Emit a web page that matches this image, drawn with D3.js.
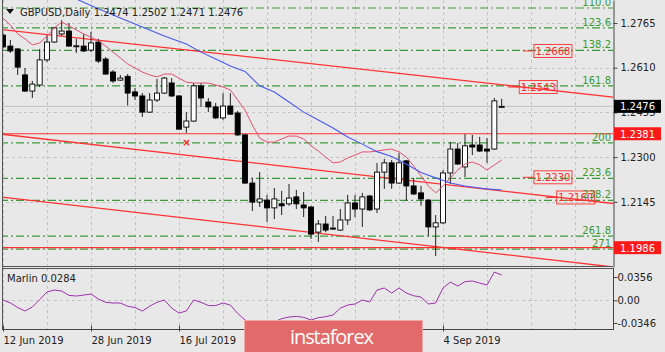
<!DOCTYPE html>
<html>
<head>
<meta charset="utf-8">
<script src="https://cdn.jsdelivr.net/npm/d3@7"></script>
<style>
body { margin: 0; background: #e8e8e8; }
svg { display: block; font-family: "DejaVu Sans", sans-serif; }
</style>
</head>
<body>
<div id="chart"></div>
<script>
// daily bars, GBPUSD
const dates = ["2019-06-12","2019-06-13","2019-06-14","2019-06-17","2019-06-18","2019-06-19","2019-06-20","2019-06-21",
	"2019-06-24","2019-06-25","2019-06-26","2019-06-27","2019-06-28","2019-07-01","2019-07-02","2019-07-03","2019-07-04",
	"2019-07-05","2019-07-08","2019-07-09","2019-07-10","2019-07-11","2019-07-12","2019-07-15","2019-07-16","2019-07-17",
	"2019-07-18","2019-07-19","2019-07-22","2019-07-23","2019-07-24","2019-07-25","2019-07-26","2019-07-29","2019-07-30",
	"2019-07-31","2019-08-01","2019-08-02","2019-08-05","2019-08-06","2019-08-07","2019-08-08","2019-08-09","2019-08-12",
	"2019-08-13","2019-08-14","2019-08-15","2019-08-16","2019-08-19","2019-08-20","2019-08-21","2019-08-22","2019-08-23",
	"2019-08-26","2019-08-27","2019-08-28","2019-08-29","2019-08-30","2019-09-02","2019-09-03","2019-09-04","2019-09-05",
	"2019-09-06","2019-09-09","2019-09-10","2019-09-11","2019-09-12","2019-09-13","2019-09-16"];

const opens = [1.2723,1.2685,1.2675,1.2585,1.2529,1.2550,1.2637,1.2699,1.2727,1.2737,1.2685,1.2685,1.2671,1.2699,1.2640,
	1.2595,1.2567,1.2580,1.2526,1.2512,1.2456,1.2498,1.2522,1.2557,1.2512,1.2404,1.2425,1.2547,1.2491,1.2474,1.2436,1.2477,
	1.2453,1.2377,1.2210,1.2144,1.2151,1.2124,1.2138,1.2138,1.2162,1.2134,1.2127,1.2040,1.2068,1.2054,1.2047,1.2082,1.2141,
	1.2120,1.2165,1.2120,1.2248,1.2280,1.2210,1.2287,1.2200,1.2176,1.2151,1.2058,1.2072,1.2245,1.2328,1.2266,1.2342,1.2342,
	1.2328,1.2328,1.2474];
const highs = [1.2730,1.2706,1.2678,1.2609,1.2564,1.2675,1.2723,1.2751,1.2775,1.2765,1.2710,1.2727,1.2734,1.2710,1.2647,
	1.2602,1.2585,1.2588,1.2540,1.2522,1.2522,1.2571,1.2578,1.2574,1.2515,1.2456,1.2557,1.2557,1.2505,1.2488,1.2522,1.2522,
	1.2460,1.2380,1.2228,1.2248,1.2169,1.2193,1.2183,1.2207,1.2186,1.2179,1.2130,1.2082,1.2096,1.2096,1.2120,1.2169,1.2169,
	1.2176,1.2169,1.2280,1.2294,1.2290,1.2314,1.2290,1.2228,1.2200,1.2155,1.2099,1.2255,1.2352,1.2349,1.2380,1.2377,1.2370,
	1.2366,1.2505,1.2502];
const lows = [1.2678,1.2661,1.2585,1.2526,1.2505,1.2543,1.2630,1.2696,1.2720,1.2682,1.2661,1.2664,1.2664,1.2626,1.2585,
	1.2557,1.2564,1.2479,1.2498,1.2439,1.2453,1.2491,1.2519,1.2508,1.2394,1.2384,1.2422,1.2474,1.2456,1.2432,1.2429,1.2446,
	1.2373,1.2207,1.2113,1.2127,1.2075,1.2085,1.2099,1.2131,1.2120,1.2092,1.2016,1.2006,1.2040,1.2047,1.2044,1.2065,1.2092,
	1.2058,1.2113,1.2106,1.2190,1.2190,1.2207,1.2148,1.2169,1.2131,1.2026,1.1957,1.2068,1.2207,1.2273,1.2231,1.2307,1.2318,
	1.2280,1.2325,1.2471];
const closes = [1.2682,1.2668,1.2612,1.2529,1.2553,1.2637,1.2699,1.2748,1.2737,1.2685,1.2686,1.2668,1.2696,1.2633,1.2588,
	1.2564,1.2574,1.2522,1.2512,1.2456,1.2498,1.2522,1.2574,1.2512,1.2397,1.2425,1.2547,1.2505,1.2474,1.2436,1.2477,1.2449,
	1.2377,1.2210,1.2144,1.2155,1.2124,1.2155,1.2131,1.2158,1.2138,1.2124,1.2033,1.2068,1.2047,1.2051,1.2082,1.2141,1.2120,
	1.2162,1.2117,1.2248,1.2280,1.2210,1.2280,1.2200,1.2172,1.2155,1.2058,1.2072,1.2245,1.2328,1.2276,1.2339,1.2335,1.2321,
	1.2321,1.2495,1.2476];

// short moving average (pink), one value per bar
const fastMA = [1.2782,1.2758,1.2727,1.2710,1.2689,1.2696,1.2720,1.2748,1.2768,1.2755,1.2741,1.2727,1.2716,1.2703,1.2685,
	1.2664,1.2644,1.2623,1.2609,1.2595,1.2585,1.2578,1.2588,1.2588,1.2574,1.2560,1.2557,1.2557,1.2557,1.2550,1.2543,1.2533,
	1.2498,1.2463,1.2411,1.2366,1.2352,1.2352,1.2363,1.2373,1.2373,1.2363,1.2339,1.2321,1.2300,1.2280,1.2283,1.2297,1.2307,
	1.2318,1.2318,1.2321,1.2325,1.2328,1.2318,1.2300,1.2269,1.2235,1.2200,1.2176,1.2200,1.2228,1.2255,1.2276,1.2283,1.2273,
	1.2255,1.2273,1.2290];

// long moving average (blue), [bar, price]
const slowMA = [[10,1.2848],[13,1.2814],[16,1.2782],[19,1.2751],[22,1.2720],[25,1.2692],[27,1.2664],[29,1.2640],[31,1.2616],
	[33,1.2597],[35,1.2547],[37,1.2526],[39,1.2491],[41,1.2456],[43,1.2429],[45,1.2401],[47,1.2370],[49,1.2345],[51,1.2319],
	[53,1.2302],[55,1.2276],[57,1.2247],[59,1.2228],[61,1.2210],[63,1.2200],[65,1.2193],[66,1.2190],[68,1.2186]];

// Marlin oscillator, one value per bar
const marlin = [0.0005,-0.0040,-0.0110,-0.0163,-0.0102,0.0010,0.0127,0.0157,0.0142,0.0075,0.0066,0.0080,0.0096,0.0020,
	-0.0030,-0.0041,-0.0041,-0.0090,-0.0110,-0.0163,-0.0090,-0.0030,0.0005,-0.0118,-0.0194,-0.0163,0.0005,-0.0030,-0.0080,
	-0.0080,-0.0041,-0.0072,-0.0200,-0.0300,-0.0380,-0.0400,-0.0380,-0.0330,-0.0280,-0.0255,-0.0245,-0.0260,-0.0301,-0.0265,
	-0.0250,-0.0224,-0.0120,-0.0072,-0.0056,0.0005,-0.0026,0.0157,0.0188,0.0111,0.0188,0.0111,0.0070,0.0050,-0.0056,-0.0041,
	0.0188,0.0279,0.0218,0.0285,0.0295,0.0264,0.0233,0.0432,0.0386];

const priceTicks = [1.2765, 1.2610, 1.2455, 1.2300, 1.2145];
const marlinTicks = [0.0356, 0, -0.0346];
// labels under the banner are not visible, only these are
const timeTicks = [0, 12, 24, 60];

const fibLabels = ["110.0","123.6","138.2","161.8","200","223.6","238.2","261.8","271"];
const fibPrices = [1.2817, 1.2748, 1.2670, 1.2547, 1.2349, 1.2226, 1.2150, 1.2026, 1.1981];

const levels = [1.2381, 1.1986];
const markPrices = [1.2668, 1.2543, 1.2230, 1.2160];
const markBars = [72.4, 70.4, 72.4, 75.5];

// channel lines [bar, price] -> [bar, price]
const trendFrom = [[-0.4, 1.2743], [-0.4, 1.2380], [-0.4, 1.2162]];
const trendTo = [[83.2, 1.2508], [83.2, 1.2139], [83.2, 1.1919]];
const crossMark = [25, 1.2352];

const symbol = "GBPUSD,Daily";
const marlinName = "Marlin";
const marlinNow = "0.0284";

// SVG size
let width = 665,
	height = 352,
	plotRight = 613,
	mainBottom = 267,
	panelTop = 268,
	panelBottom = 330;

let svg = d3.select("#chart").append("svg")
	.attr("width", width)
	.attr("height", height);

svg.append("rect").attr("width", width).attr("height", height).attr("fill", "#e8e8e8");

let x = d3.scaleLinear().domain([0, 60]).range([3, 443]);
let y = d3.scaleLinear().domain([1.191895, 1.284475]).range([mainBottom, 0]);
let yM = d3.scaleLinear().domain([-0.0346, 0.0356]).range([323, 277]);

let n = dates.length;
let bars = dates.map((d, i) => ({i: i, o: opens[i], h: highs[i], l: lows[i], c: closes[i]}));

svg.append("clipPath").attr("id", "clipMain")
	.append("rect").attr("x", 2).attr("y", 0).attr("width", plotRight - 2).attr("height", mainBottom);
svg.append("clipPath").attr("id", "clipPanel")
	.append("rect").attr("x", 2).attr("y", panelTop).attr("width", plotRight - 2).attr("height", panelBottom - panelTop);

let main = svg.append("g").attr("clip-path", "url(#clipMain)");
let panel = svg.append("g").attr("clip-path", "url(#clipPanel)");

// grid
let gridBars = d3.range(0, 84, 6);
[main, panel].forEach((g, k) => {
	g.selectAll("line.vgrid").data(gridBars).enter().append("line")
		.attr("class", "vgrid")
		.attr("x1", d => Math.round(x(d)) + 0.5).attr("x2", d => Math.round(x(d)) + 0.5)
		.attr("y1", k ? panelTop : 0).attr("y2", k ? panelBottom : mainBottom)
		.attr("stroke", "#c4c4c4").attr("stroke-dasharray", "3,3");
});
main.selectAll("line.hgrid").data(priceTicks).enter().append("line")
	.attr("x1", 0).attr("x2", plotRight)
	.attr("y1", d => Math.round(y(d)) + 0.5).attr("y2", d => Math.round(y(d)) + 0.5)
	.attr("stroke", "#c4c4c4").attr("stroke-dasharray", "3,3");
panel.append("line")
	.attr("x1", 0).attr("x2", plotRight)
	.attr("y1", Math.round(yM(0)) + 0.5).attr("y2", Math.round(yM(0)) + 0.5)
	.attr("stroke", "#c4c4c4").attr("stroke-dasharray", "3,3");

// fibo levels
main.selectAll("line.fib").data(fibPrices).enter().append("line")
	.attr("x1", 0).attr("x2", plotRight)
	.attr("y1", d => y(d)).attr("y2", d => y(d))
	.attr("stroke", "#3c9a3c").attr("stroke-width", 1.2)
	.attr("stroke-dasharray", "8,3,2,3");

// horizontal levels and channel
main.selectAll("line.level").data(levels).enter().append("line")
	.attr("x1", 0).attr("x2", plotRight)
	.attr("y1", d => y(d)).attr("y2", d => y(d))
	.attr("stroke", "#ff3030").attr("stroke-width", 1.2);

main.selectAll("line.trend").data(trendFrom).enter().append("line")
	.attr("x1", d => x(d[0])).attr("y1", d => y(d[1]))
	.attr("x2", (d, i) => x(trendTo[i][0])).attr("y2", (d, i) => y(trendTo[i][1]))
	.attr("stroke", "#ff3333").attr("stroke-width", 1.3);

// bid line
main.append("line")
	.attr("x1", 0).attr("x2", plotRight)
	.attr("y1", y(closes[n - 1])).attr("y2", y(closes[n - 1]))
	.attr("stroke", "#c0c0c0");

// candles
let candle = main.selectAll("g.bar").data(bars).enter().append("g");
candle.append("line")
	.attr("x1", d => x(d.i)).attr("x2", d => x(d.i))
	.attr("y1", d => y(d.h)).attr("y2", d => y(d.l))
	.attr("stroke", "#222");
candle.append("rect")
	.attr("x", d => x(d.i) - 2.5)
	.attr("width", 5)
	.attr("y", d => y(Math.max(d.o, d.c)))
	.attr("height", d => Math.max(1, Math.abs(y(d.o) - y(d.c))))
	.attr("fill", d => d.c >= d.o ? "#fff" : "#000")
	.attr("stroke", "#000").attr("stroke-width", 0.9);

// moving averages
main.append("path")
	.datum(fastMA)
	.attr("fill", "none").attr("stroke", "#e6506e").attr("stroke-width", 1)
	.attr("d", d3.line().x((d, i) => x(i)).y(d => y(d)));
main.append("path")
	.datum(slowMA)
	.attr("fill", "none").attr("stroke", "#4a5af0").attr("stroke-width", 1.1)
	.attr("d", d3.line().x(d => x(d[0])).y(d => y(d[1])));

// red cross
main.append("text")
	.attr("x", x(crossMark[0])).attr("y", y(crossMark[1]) + 3.5)
	.attr("text-anchor", "middle")
	.attr("fill", "#ff2020").style("font-size", "10px").style("font-weight", "bold")
	.text("×");

// price marks with boxes
let mark = main.selectAll("g.mark").data(markPrices).enter().append("g");
mark.append("line")
	.attr("x1", (d, i) => x(markBars[i]) - 11).attr("x2", (d, i) => x(markBars[i]))
	.attr("y1", d => y(d)).attr("y2", d => y(d))
	.attr("stroke", "#ff3030");
mark.append("rect")
	.attr("x", (d, i) => x(markBars[i]))
	.attr("y", d => y(d) - 6.5)
	.attr("width", 38).attr("height", 13)
	.attr("fill", "none").attr("stroke", "#ff4040");
mark.append("text")
	.attr("x", (d, i) => x(markBars[i]) + 19)
	.attr("y", d => y(d) + 4)
	.attr("text-anchor", "middle")
	.attr("fill", "#ff2a2a").style("font-size", "10px")
	.text(d => d.toFixed(4));

// fibo labels
main.selectAll("text.fib").data(fibPrices).enter().append("text")
	.attr("x", 611).attr("y", d => y(d) - 2)
	.attr("text-anchor", "end")
	.attr("fill", "#3c9a2c").style("font-size", "10px")
	.text((d, i) => fibLabels[i]);

// Marlin line
panel.append("path")
	.datum(marlin)
	.attr("fill", "none").attr("stroke", "#a030b0").attr("stroke-width", 1)
	.attr("d", d3.line().x((d, i) => x(i)).y(d => yM(d)));

// frames
svg.append("line").attr("x1", 2.5).attr("x2", 2.5).attr("y1", 0).attr("y2", panelBottom).attr("stroke", "#555");
svg.append("line").attr("x1", 2).attr("x2", plotRight).attr("y1", mainBottom - 0.5).attr("y2", mainBottom - 0.5).attr("stroke", "#555");
svg.append("line").attr("x1", 2).attr("x2", plotRight).attr("y1", panelTop + 0.5).attr("y2", panelTop + 0.5).attr("stroke", "#555");

// axes
let yAxis = d3.axisRight(y).tickValues(priceTicks).tickSize(4).tickSizeOuter(0).tickFormat(d3.format(".4f"));
let yAxisG = svg.append("g").attr("transform", "translate(" + (plotRight + 0.5) + ",0)").call(yAxis);

let mAxis = d3.axisRight(yM).tickValues(marlinTicks).tickSize(4).tickSizeOuter(0)
	.tickFormat(d => d === 0 ? "0.00" : d.toFixed(4));
let mAxisG = svg.append("g").attr("transform", "translate(" + (plotRight + 0.5) + ",0)").call(mAxis);
mAxisG.select(".domain").attr("d", "M0," + panelTop + "V" + panelBottom);

let parse = d3.timeParse("%Y-%m-%d"), fmt = d3.timeFormat("%-d %b %Y");
let xAxis = d3.axisBottom(x).tickValues(timeTicks).tickSize(3).tickSizeOuter(0)
	.tickFormat(i => fmt(parse(dates[i])));
let xAxisG = svg.append("g").attr("transform", "translate(0," + (panelBottom - 0.5) + ")").call(xAxis);
xAxisG.select(".domain").attr("d", "M2,0H" + plotRight);
xAxisG.selectAll(".tick line").attr("y1", -4).attr("y2", 2);
xAxisG.selectAll("text").attr("text-anchor", "start").attr("y", 7);

[yAxisG, mAxisG, xAxisG].forEach(g => {
	g.selectAll(".domain, .tick line").attr("stroke", "#444");
	g.selectAll("text").attr("fill", "#222").style("font-size", "10px").style("font-family", "DejaVu Sans");
});
yAxisG.selectAll("text").attr("x", 7);
mAxisG.selectAll("text").attr("x", 4);

// boxed prices on the axis
let tags = [{p: closes[n - 1], bg: "#000"}, {p: levels[0], bg: "#ff1a1a"}, {p: levels[1], bg: "#ff1a1a"}];
let tag = svg.selectAll("g.tag").data(tags).enter().append("g");
tag.append("rect")
	.attr("x", plotRight + 1).attr("y", d => y(d.p) - 6.5)
	.attr("width", 47).attr("height", 13)
	.attr("fill", d => d.bg);
tag.append("text")
	.attr("x", plotRight + 7).attr("y", d => y(d.p) + 4)
	.attr("fill", "#fff").style("font-size", "10px")
	.text(d => d.p.toFixed(4));

// header
svg.append("path").attr("d", "M6,9L14,9L10,14Z").attr("fill", "#111");
svg.append("text")
	.attr("x", 20).attr("y", 16)
	.attr("fill", "#222").style("font-size", "10px")
	.text(symbol + " " + [opens[n - 1], highs[n - 1], lows[n - 1], closes[n - 1]].map(v => v.toFixed(4)).join(" "));
svg.append("text")
	.attr("x", 7).attr("y", 282)
	.attr("fill", "#222").style("font-size", "10px")
	.text(marlinName + " " + marlinNow);

// watermark banner
svg.append("rect")
	.attr("x", 244.5).attr("y", 320.5).attr("width", 178).attr("height", 40)
	.attr("fill", "#e26a6a").attr("stroke", "#f2a8a8");
svg.append("text")
	.attr("x", 290).attr("y", 344)
	.attr("fill", "#fff").style("font-family", "Open Sans").style("font-size", "20px")
	.attr("textLength", 84)
	.text("instaforex");
</script>
</body>
</html>
